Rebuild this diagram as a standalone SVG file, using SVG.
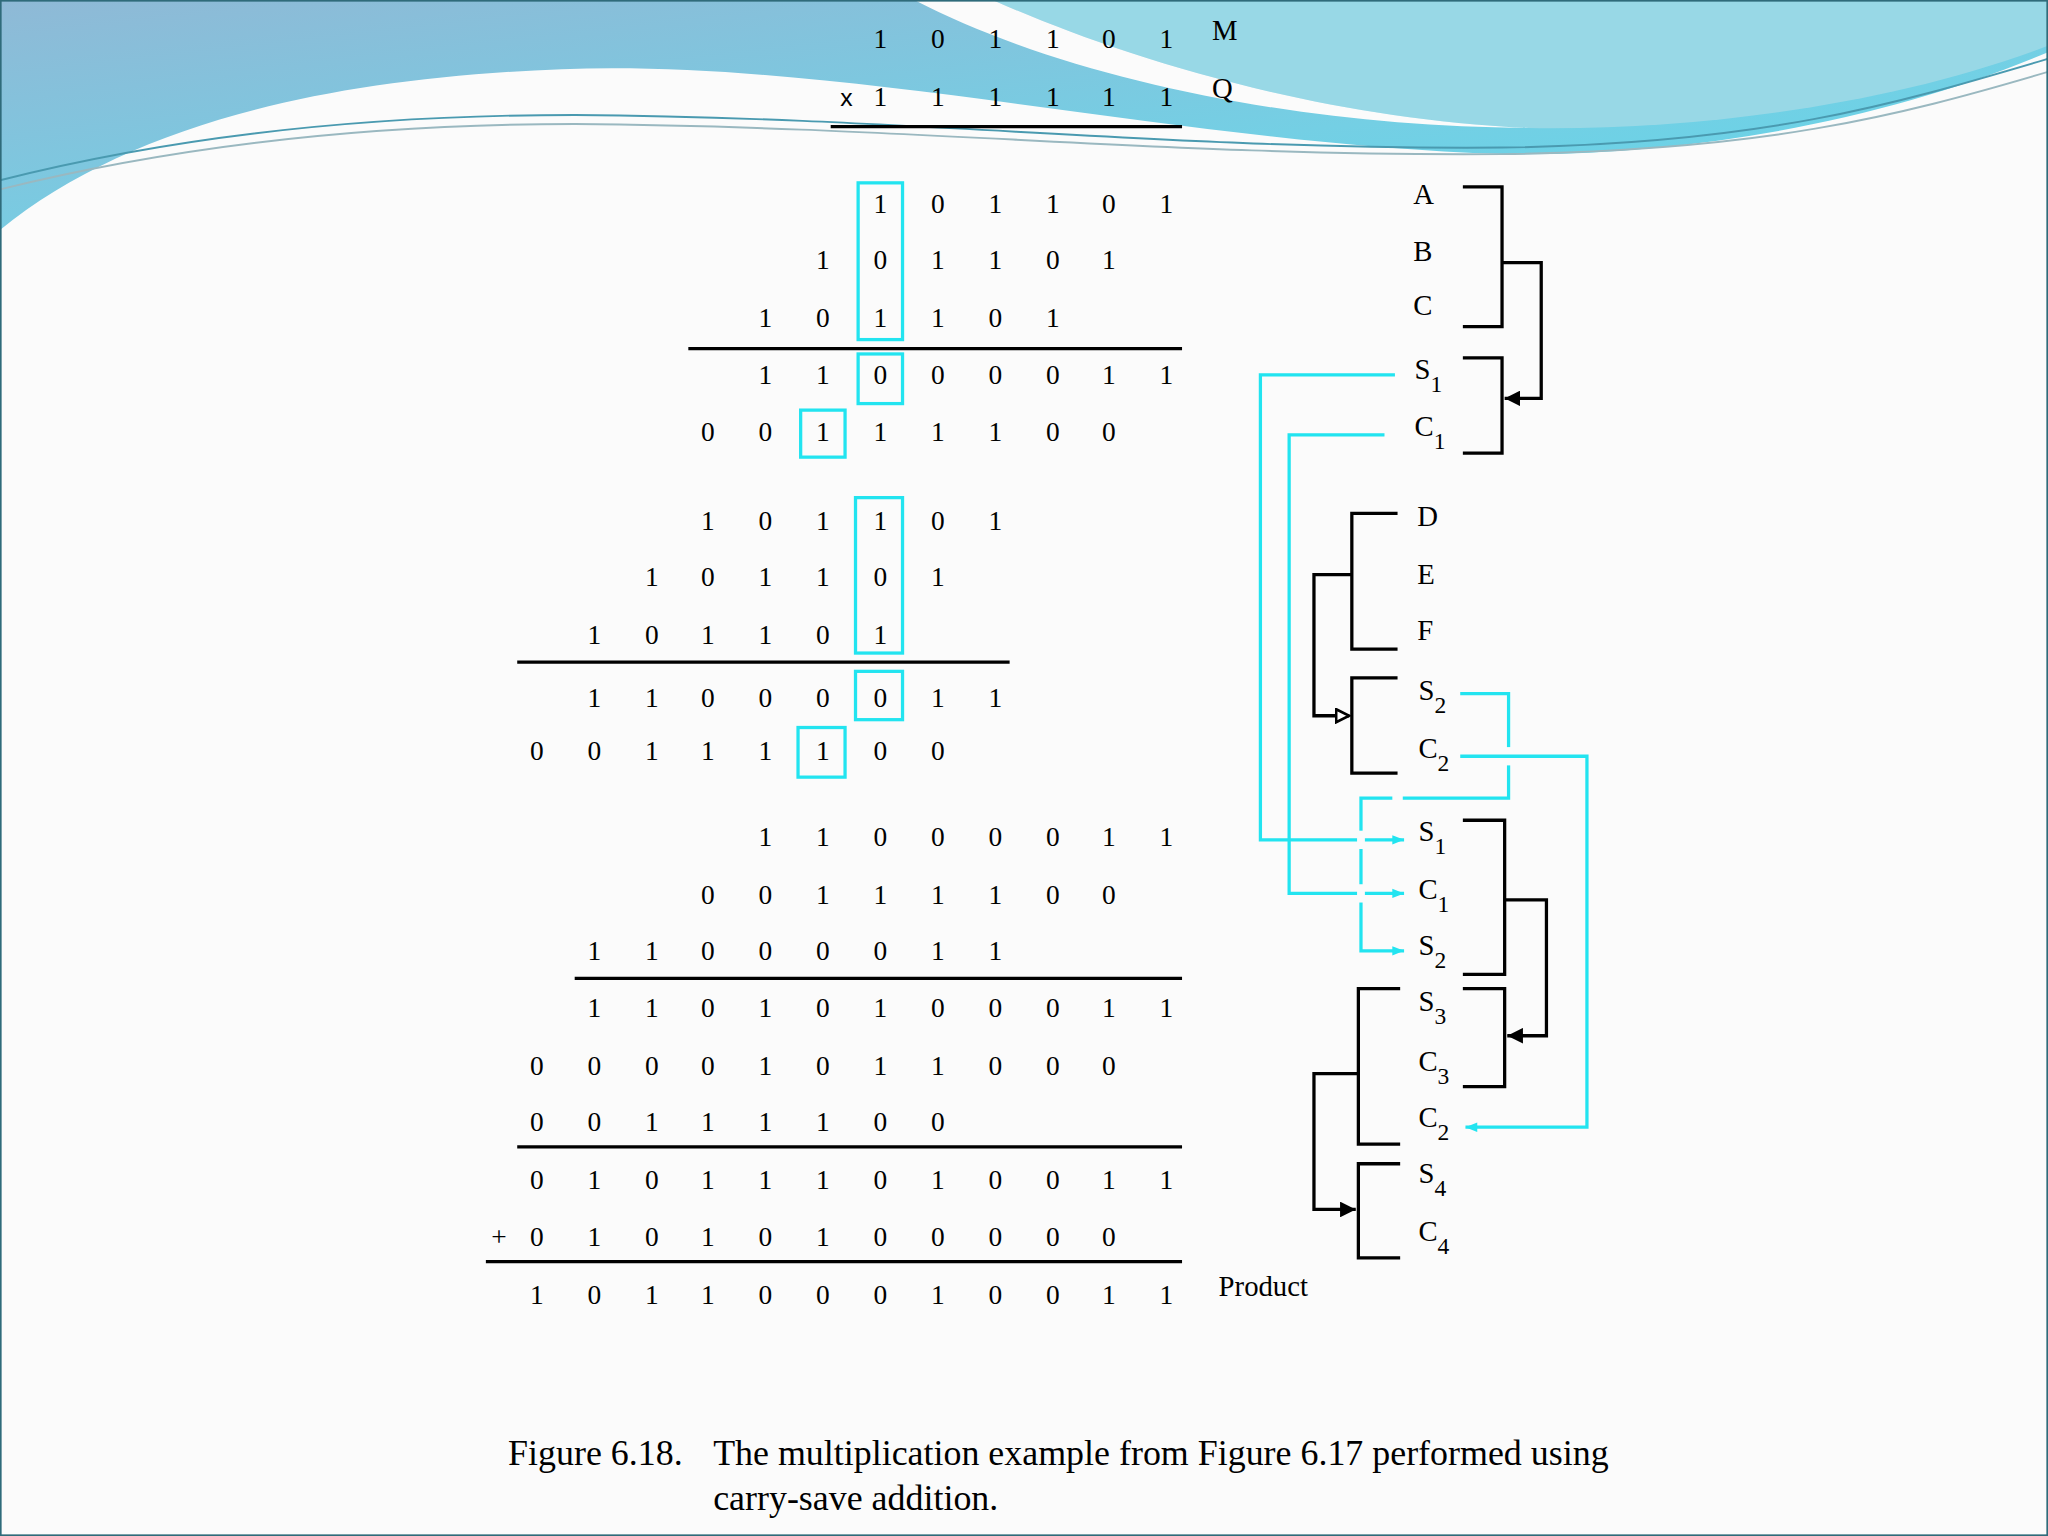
<svg xmlns="http://www.w3.org/2000/svg" width="2048" height="1536" viewBox="0 0 2048 1536">
<defs>
<linearGradient id="gb" x1="0" y1="0" x2="1" y2="1"><stop offset="0" stop-color="#8fb9d6"/><stop offset="0.6" stop-color="#74cfe4"/><stop offset="1" stop-color="#5fd7ea"/></linearGradient>
<marker id="af" viewBox="0 0 10 10" refX="10" refY="5" markerWidth="12" markerHeight="12" markerUnits="userSpaceOnUse" orient="auto"><path d="M0,0 L10,5 L0,10 Z" fill="#000"/></marker>
<marker id="ao" viewBox="0 0 12 12" refX="11" refY="6" markerWidth="12" markerHeight="12" markerUnits="userSpaceOnUse" orient="auto"><path d="M1,1 L11,6 L1,11 Z" fill="#fff" stroke="#000" stroke-width="2"/></marker>
<marker id="ac" viewBox="0 0 10 10" refX="10" refY="5" markerWidth="12" markerHeight="9" markerUnits="userSpaceOnUse" orient="auto"><path d="M0,1 L10,5 L0,9 Z" fill="#22e4f0"/></marker>
<style>
.d{font-family:"Liberation Serif",serif;font-size:21px;text-anchor:middle;fill:#000}
.l{font-family:"Liberation Serif",serif;font-size:22px;fill:#000}
.s{font-size:18px}
.r{stroke:#000;stroke-width:2.5}
.b{fill:none;stroke:#000;stroke-width:2.5}
.bx{fill:none;stroke:#22e4f0;stroke-width:2.5}
.c{fill:none;stroke:#22e4f0;stroke-width:2.5}
.gap{stroke:#fbfbfb;stroke-width:6}
.cap{font-size:27.5px}
</style>
</defs>
<rect width="2048" height="1536" fill="#fbfbfb"/>
<g transform="scale(1.306122)">
<g id="background">
<path d="M0,0 H1568 V40 C1450,90 1300,120 1150,118 C900,110 650,45 430,53 C250,60 100,95 0,176 Z" fill="url(#gb)"/>
<path d="M760,0 H1568 V35 C1450,80 1300,100 1170,98 C1000,90 850,40 760,0 Z" fill="#98d8e6"/>
<path d="M700,0 H760 C850,40 1000,90 1170,98 C1000,97 820,62 700,0 Z" fill="#fbfbfb"/>
<path d="M0,138 C150,100 300,88 440,88 C700,90 900,115 1150,113 C1350,110 1450,80 1568,45" fill="none" stroke="#4a9ab0" stroke-width="1.5"/>
<path d="M0,145 C150,108 300,95 440,95 C700,97 900,120 1150,118 C1350,115 1450,90 1568,55" fill="none" stroke="#9ab8c0" stroke-width="1.5"/>
<rect x="0.5" y="0.5" width="1567" height="1175" fill="none" stroke="#2f6b7a" stroke-width="1.5"/>
</g>
<g id="header">
<text class="d" x="674 718 762 806 849 893" y="37">101101</text>
<text class="d" x="674 718 762 806 849 893" y="81">111111</text>
<text x="648" y="81" style="font-family:'Liberation Sans',sans-serif;font-size:19px;text-anchor:middle">x</text>
<text class="l" x="928" y="31">M</text>
<text class="l" x="928" y="75">Q</text>
<line class="r" x1="636" y1="97" x2="905" y2="97"/>
</g>
<g id="step1">
<text class="d" x="674 718 762 806 849 893" y="163">101101</text>
<text class="d" x="630 674 718 762 806 849" y="206">101101</text>
<text class="d" x="586 630 674 718 762 806" y="250">101101</text>
<line class="r" x1="527" y1="267" x2="905" y2="267"/>
<text class="d" x="586 630 674 718 762 806 849 893" y="294">11000011</text>
<text class="d" x="542 586 630 674 718 762 806 849" y="338">00111100</text>
<rect class="bx" x="657" y="140" width="34" height="120"/>
<rect class="bx" x="657" y="271" width="34" height="38"/>
<rect class="bx" x="613" y="314" width="34" height="36"/>
</g>
<g id="step2">
<text class="d" x="542 586 630 674 718 762" y="406">101101</text>
<text class="d" x="499 542 586 630 674 718" y="449">101101</text>
<text class="d" x="455 499 542 586 630 674" y="493">101101</text>
<line class="r" x1="396" y1="507" x2="773" y2="507"/>
<text class="d" x="455 499 542 586 630 674 718 762" y="541">11000011</text>
<text class="d" x="411 455 499 542 586 630 674 718" y="582">00111100</text>
<rect class="bx" x="655" y="381" width="36" height="119"/>
<rect class="bx" x="655" y="514" width="36" height="37"/>
<rect class="bx" x="611" y="557" width="36" height="38"/>
</g>
<g id="step3">
<text class="d" x="586 630 674 718 762 806 849 893" y="648">11000011</text>
<text class="d" x="542 586 630 674 718 762 806 849" y="692">00111100</text>
<text class="d" x="455 499 542 586 630 674 718 762" y="735">11000011</text>
<line class="r" x1="440" y1="749" x2="905" y2="749"/>
<text class="d" x="455 499 542 586 630 674 718 762 806 849 893" y="779">11010100011</text>
<text class="d" x="411 455 499 542 586 630 674 718 762 806 849" y="823">00001011000</text>
<text class="d" x="411 455 499 542 586 630 674 718" y="866">00111100</text>
<line class="r" x1="396" y1="878" x2="905" y2="878"/>
<text class="d" x="411 455 499 542 586 630 674 718 762 806 849 893" y="910">010111010011</text>
<text class="d" x="382" y="954">+</text>
<text class="d" x="411 455 499 542 586 630 674 718 762 806 849" y="954">01010100000</text>
<line class="r" x1="372" y1="966" x2="905" y2="966"/>
<text class="d" x="411 455 499 542 586 630 674 718 762 806 849 893" y="998">101100010011</text>
<text class="l" x="933" y="992">Product</text>
</g>
<g id="labels">
<text class="l" x="1082" y="156">A</text>
<text class="l" x="1082" y="200">B</text>
<text class="l" x="1082" y="241">C</text>
<text class="l" x="1083" y="290">S<tspan class="s" dy="10">1</tspan></text>
<text class="l" x="1083" y="334">C<tspan class="s" dy="10">1</tspan></text>
<text class="l" x="1085" y="403">D</text>
<text class="l" x="1085" y="447">E</text>
<text class="l" x="1085" y="490">F</text>
<text class="l" x="1086" y="536">S<tspan class="s" dy="10">2</tspan></text>
<text class="l" x="1086" y="580">C<tspan class="s" dy="10">2</tspan></text>
<text class="l" x="1086" y="644">S<tspan class="s" dy="10">1</tspan></text>
<text class="l" x="1086" y="688">C<tspan class="s" dy="10">1</tspan></text>
<text class="l" x="1086" y="731">S<tspan class="s" dy="10">2</tspan></text>
<text class="l" x="1086" y="774">S<tspan class="s" dy="10">3</tspan></text>
<text class="l" x="1086" y="820">C<tspan class="s" dy="10">3</tspan></text>
<text class="l" x="1086" y="863">C<tspan class="s" dy="10">2</tspan></text>
<text class="l" x="1086" y="906">S<tspan class="s" dy="10">4</tspan></text>
<text class="l" x="1086" y="950">C<tspan class="s" dy="10">4</tspan></text>
</g>
<g id="connectors">
<path class="b" d="M1120,143 H1150 V250 H1120"/>
<path class="b" d="M1150,201 H1180 V305 H1152" marker-end="url(#af)"/>
<path class="b" d="M1120,274 H1150 V347 H1120"/>
<path class="b" d="M1070,393 H1035 V497 H1070"/>
<path class="b" d="M1035,440 H1006 V548 H1033" marker-end="url(#ao)"/>
<path class="b" d="M1070,519 H1035 V592 H1070"/>
<path class="b" d="M1120,628 H1152 V746 H1120"/>
<path class="b" d="M1152,689 H1184 V793 H1154" marker-end="url(#af)"/>
<path class="b" d="M1120,757 H1152 V832 H1120"/>
<path class="b" d="M1072,757 H1040 V876 H1072"/>
<path class="b" d="M1040,822 H1006 V926 H1038" marker-end="url(#af)"/>
<path class="b" d="M1072,891 H1040 V963 H1072"/>
<path class="c" d="M1068,287 H965 V643 H1075" marker-end="url(#ac)"/>
<path class="c" d="M1060,333 H987 V684 H1075" marker-end="url(#ac)"/>
<path class="c" d="M1118,531 H1155 V611 H1042 V728 H1075" marker-end="url(#ac)"/>
<line class="gap" x1="1155" y1="572" x2="1155" y2="586"/>
<line class="gap" x1="1042" y1="636" x2="1042" y2="650"/>
<line class="gap" x1="1042" y1="677" x2="1042" y2="691"/>
<line class="gap" x1="1066" y1="611" x2="1074" y2="611"/>
<path class="c" d="M1118,579 H1215 V863 H1122" marker-end="url(#ac)"/>
</g>
<g id="caption">
<text class="l cap" x="389" y="1122">Figure 6.18.<tspan x="546">The multiplication example from Figure 6.17 performed using</tspan></text>
<text class="l cap" x="546" y="1156">carry-save addition.</text>
</g>
</g>
</svg>
